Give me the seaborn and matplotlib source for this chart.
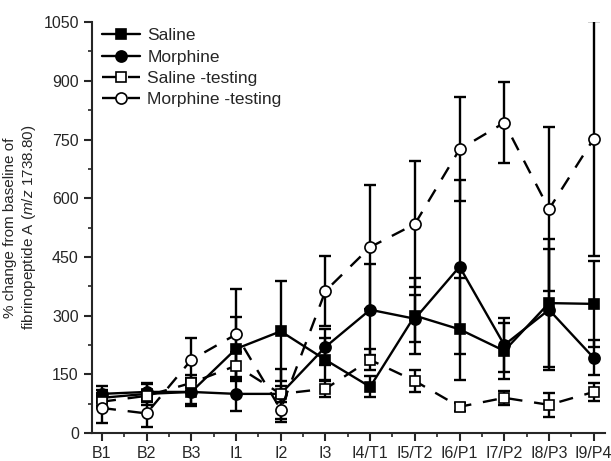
import numpy as np
import pandas as pd
import matplotlib
matplotlib.use("Agg")
import matplotlib.pyplot as plt
from matplotlib.ticker import MultipleLocator
import seaborn as sns

# values
phases = ["B1", "B2", "B3", "I1", "I2", "I3", "I4/T1", "I5/T2",
          "I6/P1", "I7/P2", "I8/P3", "I9/P4"]
saline = [90, 100, 105, 215, 260, 187, 118, 300, 265, 210, 332, 330]
saline_err = [20, 28, 30, 82, 128, 55, 27, 97, 130, 72, 163, 110]
morphine = [100, 105, 105, 100, 100, 220, 315, 292, 425, 225, 315, 192]
morphine_err = [20, 20, 35, 44, 63, 45, 116, 60, 222, 68, 155, 45]
saline_test = [80, 95, 128, 172, 100, 113, 187, 133, 67, 90, 72, 105]
saline_test_err = [15, 15, 20, 35, 20, 22, 27, 27, 10, 18, 31, 22]
morphine_test = [64, 50, 187, 252, 60, 363, 475, 534, 725, 793, 572, 752]
morphine_test_err = [38, 35, 56, 115, 32, 89, 158, 160, 133, 104, 210, 300]

sns.set_style("ticks")
plt.rcParams["font.family"] = ["Liberation Sans", "DejaVu Sans"]
plt.rcParams["mathtext.fontset"] = "custom"
plt.rcParams["mathtext.it"] = "Liberation Sans:italic"
plt.rcParams["mathtext.rm"] = "Liberation Sans"

pos = np.arange(len(phases))
series = [
    ("Saline", saline, saline_err, "s", "black", "-"),
    ("Morphine", morphine, morphine_err, "o", "black", "-"),
    ("Saline-testing", saline_test, saline_test_err, "s", "white", (0, (6, 5))),
    ("Morphine-testing", morphine_test, morphine_test_err, "o", "white", (0, (6, 5))),
]

fig = plt.figure(figsize=(6.11, 4.61), dpi=100)
ax = fig.add_axes([0.1506, 0.0607, 0.8394, 0.8913])

for name, vals, errs, mk, fc, ls in series:
    df = pd.DataFrame({"phase": pos, "value": vals})
    ax.errorbar(pos, vals, yerr=errs, fmt="none", ecolor="black",
                elinewidth=1.7, capsize=4.5, capthick=1.7, zorder=2)
    sns.lineplot(data=df, x="phase", y="value", ax=ax, color="black",
                 linestyle=ls, linewidth=1.7, marker=mk,
                 markersize=8 if mk == "o" else 7.5,
                 markerfacecolor=fc, markeredgecolor="black",
                 markeredgewidth=1.2, label=name.replace("-", " -"), zorder=3)

ax.set_xlim(-0.22, 11.25)
ax.set_ylim(0, 1050)
ax.set_xticks(pos)
ax.set_xticklabels(phases)
ax.xaxis.set_minor_locator(MultipleLocator(0.5))
ax.set_yticks(np.arange(0, 1051, 150))
ax.yaxis.set_minor_locator(MultipleLocator(75))
ax.tick_params(which="major", length=6, width=1.5, labelsize=11.5, direction="out")
ax.tick_params(which="minor", length=3, width=1.2, direction="out")
ax.set_xlabel("")
ax.set_ylabel("% change from baseline of\nfibrinopeptide A ($\\it{m/z}$ 1738.80)",
              fontsize=11, labelpad=4)
sns.despine(ax=ax)
for sp in ["left", "bottom"]:
    ax.spines[sp].set_linewidth(1.5)

ax.legend(loc="upper left", bbox_to_anchor=(0.02, 0.985), frameon=False,
          fontsize=12.5, handlelength=2.2, handletextpad=0.4,
          labelspacing=0.35, borderpad=0, borderaxespad=0)

fig.savefig("out.png", dpi=100)
